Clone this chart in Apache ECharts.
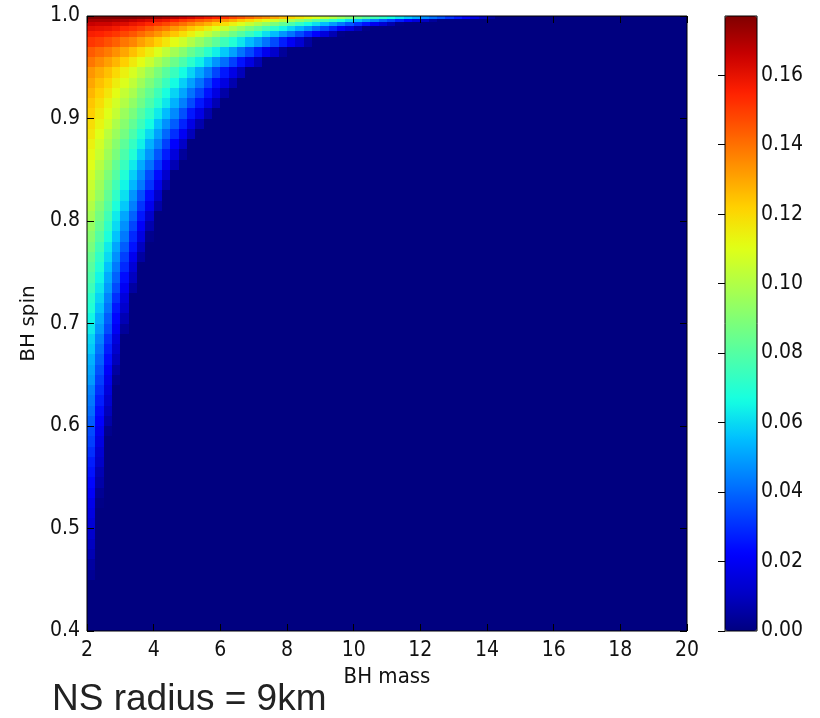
<!DOCTYPE html>
<html>
<head>
<meta charset="utf-8">
<script src="https://cdn.jsdelivr.net/npm/echarts@6/dist/echarts.min.js"></script>
<style>
  html, body { margin: 0; padding: 0; background: #fff; }
  #chart { width: 820px; height: 718px; }
</style>
</head>
<body>
<div id="chart"></div>
<script>
// ---------------- data ----------------
// BH mass bins: start 2, width 0.25 (values listed per spin band, left to right)
const massMin = 2;
const massMax = 20;
const massStep = 0.25;

// spin band edges, top to bottom
const spinEdges = [1.0, 0.997, 0.994, 0.99, 0.985, 0.98, 0.97, 0.96, 0.95, 0.94,
  0.93, 0.92, 0.91, 0.90, 0.89, 0.88, 0.87, 0.86, 0.85, 0.84, 0.83, 0.82, 0.81, 0.80,
  0.79, 0.78, 0.77, 0.76, 0.75, 0.74, 0.73, 0.72, 0.71, 0.70, 0.69, 0.68, 0.67, 0.66,
  0.65, 0.64, 0.63, 0.62, 0.61, 0.60, 0.59, 0.58, 0.57, 0.56, 0.55, 0.54, 0.53, 0.52,
  0.51, 0.50, 0.49, 0.48, 0.47, 0.46, 0.45, 0.40];

// remnant value per cell of each spin band (cells beyond the list are 0)
const diskMass = [
  [0.177,0.177,0.177,0.177,0.177,0.177,0.176,0.175,0.173,0.171,0.169,0.166,0.164,0.161,0.158,0.155,0.152,0.148,0.145,0.141,0.137,0.134,0.130,0.126,0.121,0.117,0.113,0.109,0.104,0.100,0.095,0.091,0.086,0.081,0.076,0.072,0.067,0.062,0.057,0.052,0.047,0.042,0.037,0.031,0.026,0.021,0.016,0.010,0.005],
  [0.171,0.171,0.171,0.170,0.169,0.167,0.165,0.163,0.160,0.158,0.155,0.151,0.148,0.144,0.141,0.137,0.133,0.129,0.124,0.120,0.115,0.111,0.106,0.101,0.097,0.092,0.087,0.081,0.076,0.071,0.066,0.060,0.055,0.049,0.044,0.038,0.033,0.027,0.021,0.015,0.010,0.004],
  [0.166,0.165,0.165,0.163,0.162,0.159,0.157,0.154,0.151,0.148,0.144,0.140,0.136,0.132,0.128,0.123,0.119,0.114,0.109,0.104,0.099,0.094,0.088,0.083,0.078,0.072,0.066,0.061,0.055,0.049,0.043,0.037,0.031,0.025,0.019,0.013,0.007,0.001],
  [0.161,0.160,0.159,0.157,0.154,0.152,0.149,0.145,0.141,0.138,0.133,0.129,0.124,0.120,0.115,0.110,0.105,0.099,0.094,0.088,0.083,0.077,0.071,0.065,0.059,0.053,0.047,0.040,0.034,0.028,0.021,0.015,0.008,0.001],
  [0.156,0.155,0.153,0.151,0.148,0.145,0.141,0.137,0.133,0.128,0.124,0.119,0.114,0.108,0.103,0.097,0.092,0.086,0.080,0.074,0.068,0.061,0.055,0.048,0.042,0.035,0.028,0.022,0.015,0.008,0.001],
  [0.151,0.149,0.146,0.143,0.139,0.136,0.131,0.127,0.122,0.117,0.111,0.106,0.100,0.094,0.088,0.082,0.075,0.069,0.062,0.055,0.049,0.042,0.035,0.027,0.020,0.013,0.005],
  [0.144,0.141,0.138,0.134,0.130,0.125,0.120,0.115,0.109,0.103,0.097,0.091,0.084,0.078,0.071,0.064,0.057,0.050,0.042,0.035,0.027,0.019,0.012,0.004],
  [0.139,0.135,0.131,0.127,0.122,0.116,0.111,0.105,0.098,0.092,0.085,0.078,0.071,0.064,0.056,0.048,0.041,0.033,0.025,0.016,0.008],
  [0.133,0.129,0.125,0.120,0.114,0.108,0.102,0.095,0.088,0.081,0.074,0.066,0.059,0.051,0.043,0.034,0.026,0.017,0.009],
  [0.130,0.125,0.121,0.115,0.109,0.103,0.096,0.089,0.082,0.074,0.066,0.058,0.050,0.042,0.033,0.024,0.016,0.007],
  [0.127,0.122,0.117,0.111,0.104,0.098,0.090,0.083,0.075,0.067,0.059,0.051,0.042,0.034,0.025,0.016,0.006],
  [0.124,0.119,0.113,0.107,0.100,0.093,0.086,0.078,0.070,0.062,0.053,0.044,0.035,0.026,0.017,0.008],
  [0.122,0.116,0.110,0.104,0.095,0.088,0.080,0.072,0.063,0.055,0.046,0.036,0.026,0.017,0.007],
  [0.119,0.113,0.107,0.099,0.091,0.083,0.075,0.066,0.056,0.047,0.038,0.028,0.017,0.007],
  [0.117,0.110,0.102,0.095,0.087,0.078,0.069,0.060,0.050,0.040,0.030,0.020,0.009],
  [0.114,0.107,0.099,0.091,0.082,0.073,0.064,0.053,0.044,0.033,0.022,0.011],
  [0.112,0.105,0.096,0.088,0.078,0.069,0.058,0.048,0.037,0.027,0.015,0.004],
  [0.110,0.101,0.093,0.083,0.074,0.063,0.052,0.042,0.031,0.019,0.008],
  [0.107,0.098,0.089,0.080,0.069,0.058,0.047,0.035,0.024,0.012],
  [0.105,0.096,0.086,0.076,0.065,0.054,0.043,0.031,0.018,0.006],
  [0.103,0.094,0.083,0.072,0.061,0.048,0.036,0.024,0.011],
  [0.100,0.090,0.080,0.068,0.057,0.044,0.031,0.019,0.006],
  [0.097,0.087,0.076,0.063,0.051,0.039,0.026,0.012],
  [0.094,0.084,0.072,0.060,0.047,0.034,0.021,0.007],
  [0.091,0.080,0.068,0.056,0.043,0.029,0.016,0.002],
  [0.088,0.076,0.063,0.051,0.038,0.025,0.010],
  [0.084,0.072,0.060,0.047,0.033,0.019,0.005],
  [0.081,0.069,0.056,0.043,0.029,0.014],
  [0.078,0.065,0.052,0.039,0.024,0.010],
  [0.075,0.062,0.049,0.035,0.020,0.005],
  [0.071,0.059,0.045,0.030,0.015],
  [0.069,0.056,0.042,0.026,0.012],
  [0.065,0.052,0.038,0.023,0.008],
  [0.063,0.049,0.035,0.020,0.004],
  [0.059,0.045,0.030,0.015],
  [0.057,0.042,0.027,0.012],
  [0.053,0.039,0.024,0.009],
  [0.051,0.036,0.021,0.005],
  [0.049,0.033,0.018,0.002],
  [0.045,0.030,0.015],
  [0.043,0.027,0.012],
  [0.041,0.024,0.009],
  [0.038,0.022,0.006],
  [0.035,0.019,0.002],
  [0.033,0.016],
  [0.030,0.013],
  [0.027,0.011],
  [0.025,0.008],
  [0.023,0.006],
  [0.021,0.003],
  [0.018,0.001],
  [0.016],
  [0.014],
  [0.012],
  [0.010],
  [0.008],
  [0.005],
  [0.003],
  []
];

const colorMin = 0;
const colorMax = 0.177;

// tick labels
const massTicks = [2, 4, 6, 8, 10, 12, 14, 16, 18, 20];
const spinTicks = [0.4, 0.5, 0.6, 0.7, 0.8, 0.9, 1.0];
const colorTicks = [0, 0.02, 0.04, 0.06, 0.08, 0.10, 0.12, 0.14, 0.16];

// jet colour map
const jetColors = ['#000080','#0000c8','#0000ff','#0040ff','#0080ff','#00bfff','#15ffe2','#48ffaf',
  '#7bff7b','#afff48','#e2ff15','#ffd200','#ff9700','#ff5c00','#ff2100','#c80000','#800000'];

// ---------------- build cells ----------------
const cells = [];
diskMass.forEach((row, i) => {
  const sTop = spinEdges[i], sBot = spinEdges[i + 1];
  row.forEach((v, j) => {
    cells.push([massMin + j * massStep, massMin + (j + 1) * massStep, sBot, sTop, v]);
  });
  cells.push([massMin + row.length * massStep, massMax, sBot, sTop, 0]);
});

function renderCell(params, api) {
  const a = api.coord([api.value(0), api.value(3)]);
  const b = api.coord([api.value(1), api.value(2)]);
  const x0 = Math.round(a[0]), y0 = Math.round(a[1]);
  const x1 = Math.round(b[0]), y1 = Math.round(b[1]);
  return {
    type: 'rect',
    shape: { x: x0, y: y0, width: x1 - x0, height: y1 - y0 },
    style: { fill: api.visual('color') }
  };
}

const tickFont = "'DejaVu Sans Condensed', 'DejaVu Sans', sans-serif";
const tickStyle = { inside: true, length: 7, lineStyle: { color: '#000', width: 1 } };

const chart = echarts.init(document.getElementById('chart'), null, { renderer: 'canvas' });
chart.setOption({
  animation: false,
  backgroundColor: '#fff',
  grid: [
    { left: 87, top: 16, width: 600, height: 615, show: true, borderColor: '#000', borderWidth: 1,
      backgroundColor: 'transparent', z: 10, outerBoundsMode: 'none' },
    { left: 725, top: 16, width: 32, height: 615, show: true, borderColor: '#000', borderWidth: 1,
      backgroundColor: 'transparent', z: 10, outerBoundsMode: 'none' }
  ],
  xAxis: [
    { type: 'value', gridIndex: 0, min: massMin, max: massMax, position: 'bottom', z: 10,
      axisLine: { show: false }, splitLine: { show: false },
      axisTick: Object.assign({ customValues: massTicks }, tickStyle),
      axisLabel: { customValues: massTicks, margin: 9, color: '#111', fontSize: 21, fontFamily: tickFont },
      name: 'BH mass', nameLocation: 'middle', nameGap: 32,
      nameTextStyle: { color: '#111', fontSize: 22, fontFamily: tickFont } },
    { type: 'value', gridIndex: 0, min: massMin, max: massMax, position: 'top', z: 10,
      axisLine: { show: false }, splitLine: { show: false },
      axisTick: Object.assign({ customValues: massTicks }, tickStyle),
      axisLabel: { show: false } },
    { type: 'value', gridIndex: 1, min: 0, max: 1, show: false }
  ],
  yAxis: [
    { type: 'value', gridIndex: 0, min: 0.4, max: 1.0, position: 'left', z: 10,
      axisLine: { show: false }, splitLine: { show: false },
      axisTick: Object.assign({ customValues: spinTicks }, tickStyle),
      axisLabel: { customValues: spinTicks, margin: 7, color: '#111', fontSize: 21, fontFamily: tickFont,
        formatter: v => v.toFixed(1) },
      name: 'BH spin', nameLocation: 'middle', nameGap: 48, nameRotate: 90,
      nameTextStyle: { color: '#111', fontSize: 20, fontFamily: "'DejaVu Sans', sans-serif" } },
    { type: 'value', gridIndex: 0, min: 0.4, max: 1.0, position: 'right', z: 10,
      axisLine: { show: false }, splitLine: { show: false },
      axisTick: Object.assign({ customValues: spinTicks }, tickStyle),
      axisLabel: { show: false } },
    { type: 'value', gridIndex: 1, min: colorMin, max: colorMax, position: 'right', z: 10,
      axisLine: { show: false }, splitLine: { show: false },
      axisTick: Object.assign({ customValues: colorTicks }, tickStyle),
      axisLabel: { customValues: colorTicks, margin: 4, color: '#111', fontSize: 21, fontFamily: tickFont,
        formatter: v => v.toFixed(2) } }
  ],
  visualMap: {
    type: 'continuous',
    min: colorMin, max: colorMax,
    dimension: 4,
    seriesIndex: 0,
    calculable: false,
    hoverLink: false,
    orient: 'vertical',
    left: 725, top: 16,
    padding: 0,
    itemWidth: 32, itemHeight: 615,
    text: null,
    showLabel: false,
    inRange: { color: jetColors }
  },
  series: [{
    type: 'custom',
    xAxisIndex: 0, yAxisIndex: 0,
    renderItem: renderCell,
    encode: { x: [0, 1], y: [2, 3] },
    data: cells,
    silent: true,
    clip: true
  }],
  graphic: [{
    type: 'text', x: 52, y: 700, silent: true,
    style: { text: 'NS radius = 9km', fontSize: 37, fontFamily: "'Liberation Sans', Arial, sans-serif",
      fill: '#222', verticalAlign: 'middle', align: 'left' }
  }]
});
</script>
</body>
</html>
